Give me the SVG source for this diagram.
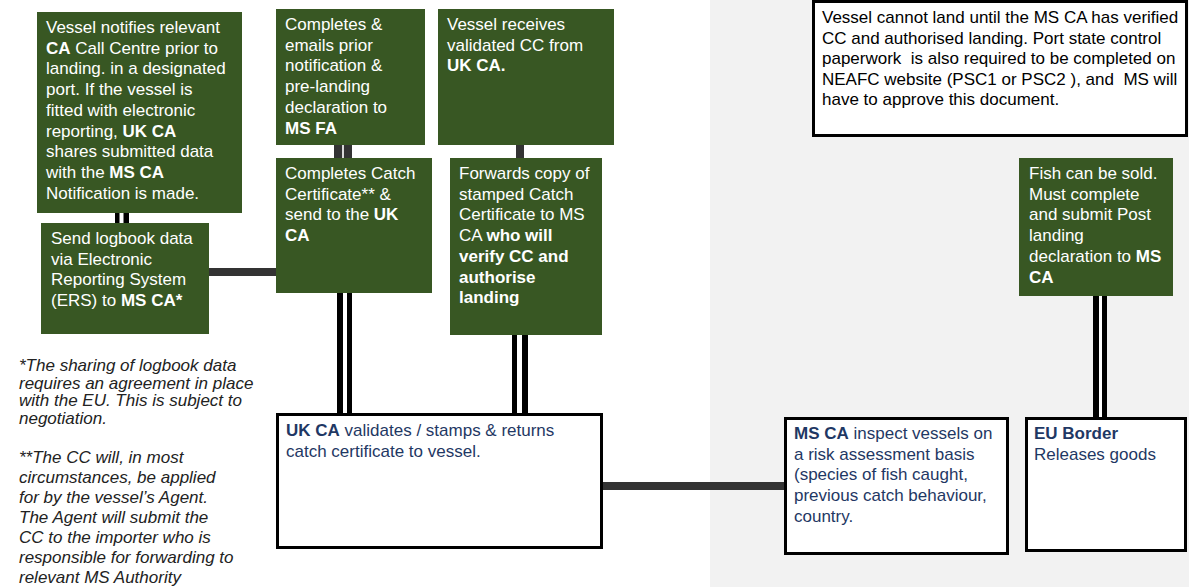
<svg xmlns="http://www.w3.org/2000/svg" width="1189" height="587" viewBox="0 0 1189 587">
<style>
text{font-family:"Liberation Sans",Arial,sans-serif;font-size:17px;white-space:pre}
.g rect{fill:#385723}
.g text{fill:#ffffff}
.w rect{fill:#ffffff;stroke:#000;stroke-width:3}
.w text{fill:#1f3864}
.b{font-weight:bold}
.dbl{stroke:#000;fill:none}
.gap{stroke:#fff;fill:none}
.bar{stroke:#333;fill:none;stroke-width:8}
.note{fill:#222;font-style:italic}
</style>
<rect x="710" y="0" width="479" height="587" fill="#f2f2f2"/>
<g id="connectors">
<line class="dbl" x1="122" y1="210" x2="122" y2="226" stroke-width="14"/>
<line class="gap" x1="121.5" y1="210" x2="121.5" y2="226" stroke-width="4"/>
<line class="bar" x1="207" y1="272" x2="278" y2="272"/>
<line x1="343" y1="143" x2="343" y2="160" stroke="#333" stroke-width="18"/>
<line x1="343" y1="143" x2="343" y2="160" stroke="#d8d8d8" stroke-width="2"/>
<line class="dbl" x1="344.5" y1="291" x2="344.5" y2="415" stroke-width="15"/>
<line class="gap" x1="345" y1="291" x2="345" y2="415" stroke-width="4"/>
<line class="bar" x1="520" y1="143" x2="520" y2="160"/>
<line class="dbl" x1="520" y1="333" x2="520" y2="415" stroke-width="16"/>
<line class="gap" x1="519.5" y1="333" x2="519.5" y2="415" stroke-width="5"/>
<line class="bar" x1="601" y1="486" x2="787" y2="486"/>
<line class="dbl" x1="1100" y1="294" x2="1100" y2="419" stroke-width="14"/>
<line class="gap" x1="1100.5" y1="294" x2="1100.5" y2="419" stroke-width="3"/>
</g>
<g id="n-notify" class="g">
<rect x="37" y="12" width="205" height="201"/>
<text x="46" y="33">Vessel notifies relevant</text>
<text x="46" y="53.7"><tspan class="b">CA</tspan> Call Centre prior to</text>
<text x="46" y="74.4">landing. in a designated</text>
<text x="46" y="95.1">port. If the vessel is</text>
<text x="46" y="115.8">fitted with electronic</text>
<text x="46" y="136.5">reporting, <tspan class="b">UK CA</tspan></text>
<text x="46" y="157.2">shares submitted data</text>
<text x="46" y="177.9">with the <tspan class="b">MS CA</tspan></text>
<text x="46" y="198.6">Notification is made.</text>
</g>
<g id="n-logbook" class="g">
<rect x="41" y="223" width="168" height="111"/>
<text x="51" y="244">Send logbook data</text>
<text x="51" y="264.7">via Electronic</text>
<text x="51" y="285.4">Reporting System</text>
<text x="51" y="306.1">(ERS) to <tspan class="b">MS CA*</tspan></text>
</g>
<g id="n-prior" class="g">
<rect x="276" y="9" width="149" height="136"/>
<text x="285" y="30">Completes &amp;</text>
<text x="285" y="50.7">emails prior</text>
<text x="285" y="71.4">notification &amp;</text>
<text x="285" y="92.1">pre-landing</text>
<text x="285" y="112.8">declaration to</text>
<text x="285" y="133.5" class="b">MS FA</text>
</g>
<g id="n-catch" class="g">
<rect x="276" y="158" width="156" height="135"/>
<text x="285" y="179">Completes Catch</text>
<text x="285" y="199.7">Certificate** &amp;</text>
<text x="285" y="220.4">send to the <tspan class="b">UK</tspan></text>
<text x="285" y="241.1" class="b">CA</text>
</g>
<g id="n-receives" class="g">
<rect x="438" y="9" width="176" height="136"/>
<text x="447" y="30">Vessel receives</text>
<text x="447" y="50.7">validated CC from</text>
<text x="447" y="71.4" class="b">UK CA.</text>
</g>
<g id="n-forwards" class="g">
<rect x="450" y="158" width="152" height="177"/>
<text x="459" y="179">Forwards copy of</text>
<text x="459" y="199.7">stamped Catch</text>
<text x="459" y="220.4">Certificate to MS</text>
<text x="459" y="241.1">CA <tspan class="b">who will</tspan></text>
<text x="459" y="261.8" class="b">verify CC and</text>
<text x="459" y="282.5" class="b">authorise</text>
<text x="459" y="303.2" class="b">landing</text>
</g>
<g id="n-note">
<rect x="813.5" y="1.5" width="373" height="134" fill="#fff" stroke="#000" stroke-width="3"/>
<text x="822" y="23" fill="#000">Vessel cannot land until the MS CA has verified</text>
<text x="822" y="43.5" fill="#000">CC and authorised landing. Port state control</text>
<text x="822" y="64" fill="#000">paperwork  is also required to be completed on</text>
<text x="822" y="84.5" fill="#000">NEAFC website (PSC1 or PSC2 ), and  MS will</text>
<text x="822" y="105" fill="#000">have to approve this document.</text>
</g>
<g id="n-fish" class="g">
<rect x="1019" y="158" width="154" height="138"/>
<text x="1029" y="179">Fish can be sold.</text>
<text x="1029" y="199.7">Must complete</text>
<text x="1029" y="220.4">and submit Post</text>
<text x="1029" y="241.1">landing</text>
<text x="1029" y="261.8">declaration to <tspan class="b">MS</tspan></text>
<text x="1029" y="282.5" class="b">CA</text>
</g>
<g id="n-ukca" class="w">
<rect x="277.5" y="414.5" width="324" height="133"/>
<text x="286" y="436"><tspan class="b">UK CA</tspan> validates / stamps &amp; returns</text>
<text x="286" y="456.5">catch certificate to vessel.</text>
</g>
<g id="n-msca" class="w">
<rect x="785.5" y="418.5" width="222" height="135"/>
<text x="794" y="439"><tspan class="b">MS CA</tspan> inspect vessels on</text>
<text x="794" y="459.7">a risk assessment basis</text>
<text x="794" y="480.4">(species of fish caught,</text>
<text x="794" y="501.1">previous catch behaviour,</text>
<text x="794" y="521.8">country.</text>
</g>
<g id="n-eu" class="w">
<rect x="1026.5" y="418.5" width="159" height="132"/>
<text x="1034" y="439" class="b">EU Border</text>
<text x="1034" y="459.7">Releases goods</text>
</g>
<g id="footnotes">
<text x="19" y="371" class="note" font-size="15">*The sharing of logbook data</text>
<text x="19" y="388.7" class="note" font-size="15">requires an agreement in place</text>
<text x="19" y="406.4" class="note" font-size="15">with the EU. This is subject to</text>
<text x="19" y="424.1" class="note" font-size="15">negotiation.</text>
<text x="19" y="463" class="note">**The CC will, in most</text>
<text x="19" y="483" class="note">circumstances, be applied</text>
<text x="19" y="503" class="note">for by the vessel’s Agent.</text>
<text x="19" y="523" class="note">The Agent will submit the</text>
<text x="19" y="543" class="note">CC to the importer who is</text>
<text x="19" y="563" class="note">responsible for forwarding to</text>
<text x="19" y="582.5" class="note">relevant MS Authority</text>
</g>
</svg>
